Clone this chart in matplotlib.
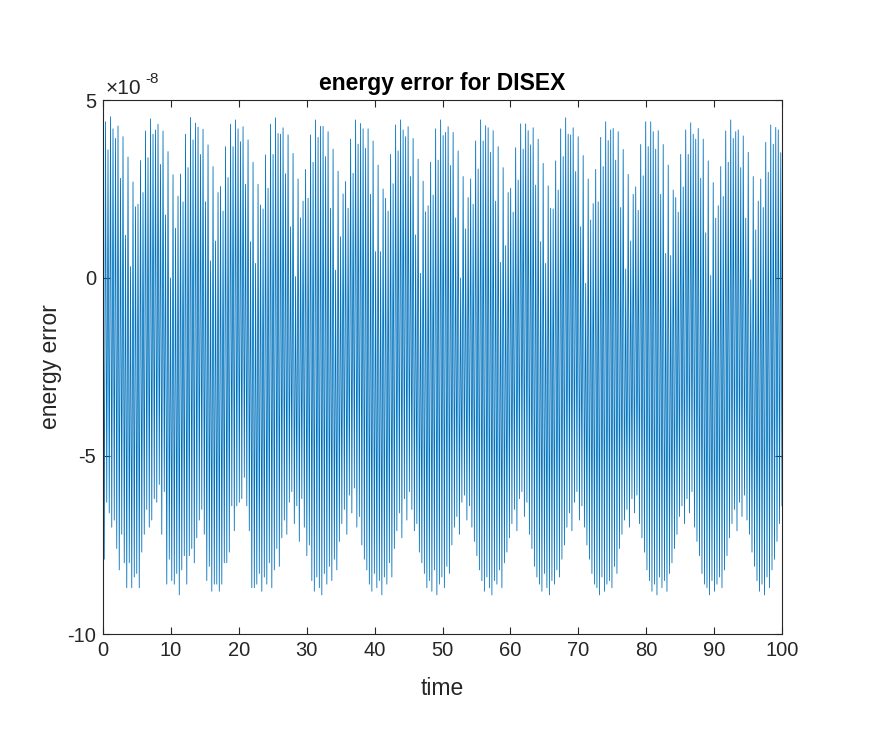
import numpy as np
import matplotlib
matplotlib.use("Agg")
import matplotlib.pyplot as plt

plt.rcParams['font.family'] = ['Liberation Sans', 'DejaVu Sans']
plt.rcParams['axes.unicode_minus'] = False

# spike tops / bottoms of the energy error, in units of 1e-8, read left to right
tops = [
    2.7, 4.39, 3.6, 4.53, 4.19, 3.92, 4.27, 2.8, 3.97, 1.2, 3.4, 0.32, 2.7, 2.0, 2.07,
    3.3, 2.4, 4.13, 3.38, 4.47, 4.04, 4.16, 4.32, 3.19, 4.13, 1.77, 3.55, 0.0, 2.9, 1.4,
    2.3, 2.92, 2.14, 4.04, 3.1, 4.51, 3.88, 4.35, 4.24, 3.47, 4.18, 2.14, 3.74, 0.48, 3.13,
    1.04, 2.4, 2.57, 1.88, 3.69, 2.82, 4.32, 3.69, 4.44, 4.19, 3.83, 4.25, 2.63, 3.88, 1.02,
    3.25, 0.41, 2.63, 2.05, 1.94, 3.46, 2.52, 4.32, 3.47, 4.5, 4.06, 4.04, 4.22, 2.93, 4.02,
    1.44, 3.5, 0.04, 2.78, 1.69, 2.16, 3.05, 2.24, 4.02, 3.25, 4.44, 3.95, 4.26, 4.26, 3.41,
    4.11, 1.96, 3.62, 0.22, 3.0, 1.16, 2.36, 2.71, 1.96, 3.9, 2.94, 4.44, 3.76, 4.34, 4.19,
    3.64, 4.19, 2.35, 3.85, 0.74, 3.17, 0.74, 2.5, 2.24, 1.88, 3.47, 2.65, 4.3, 3.57, 4.44,
    4.16, 3.97, 4.25, 2.85, 3.92, 1.21, 3.34, 0.13, 2.72, 1.86, 2.03, 3.25, 2.33, 4.19, 3.31,
    4.44, 4.0, 4.09, 4.25, 3.16, 4.09, 1.69, 3.57, 0.0, 2.85, 1.38, 2.26, 2.78, 2.07, 3.85,
    3.06, 4.44, 3.85, 4.28, 4.22, 3.53, 4.14, 2.16, 3.69, 0.44, 3.1, 0.91, 2.4, 2.52, 1.85,
    3.66, 2.75, 4.33, 3.62, 4.33, 4.14, 3.74, 4.22, 2.61, 3.9, 1.02, 3.22, 0.41, 2.59, 1.96,
    1.94, 3.29, 2.47, 4.19, 3.41, 4.5, 4.04, 4.02, 4.22, 2.99, 3.97, 1.44, 3.44, -0.15, 2.78,
    1.63, 2.09, 3.05, 2.14, 3.95, 3.13, 4.39, 3.86, 4.16, 4.2, 3.31, 4.11, 1.98, 3.61, 0.25,
    2.91, 1.04, 2.35, 2.56, 1.9, 3.75, 2.87, 4.39, 3.69, 4.39, 4.11, 3.62, 4.14, 2.35, 3.75,
    0.69, 3.17, 0.63, 2.47, 2.26, 1.85, 3.47, 2.56, 4.16, 3.47, 4.36, 4.04, 3.9, 4.2, 2.8,
    3.9, 1.27, 3.29, 0.07, 2.68, 1.68, 2.03, 3.13, 2.29, 4.13, 3.25, 4.44, 3.92, 4.11, 4.16,
    3.1, 3.99, 1.68, 3.53, -0.05, 2.85, 1.35, 2.16, 2.78, 1.98, 3.81, 2.97, 4.3, 3.76, 4.23,
    4.16, 3.52,
]

bottoms = [
    -7.9, -6.3, -6.6, -7.0, -6.8, -7.6, -8.2, -7.2, -8.0, -8.7, -8.0, -8.7, -8.4, -8.3, -8.7,
    -7.7, -7.2, -6.5, -7.0, -6.8, -6.2, -6.3, -5.8, -7.2, -6.0, -8.6, -7.9, -8.5, -8.6, -8.3,
    -8.9, -8.2, -7.8, -8.6, -7.8, -7.6, -8.0, -7.3, -6.8, -6.5, -7.2, -8.5, -8.1, -8.8, -8.6,
    -8.6, -8.8, -8.6, -8.0, -8.0, -7.7, -6.4, -7.1, -6.4, -6.3, -6.2, -5.6, -6.4, -7.1, -8.7,
    -8.7, -8.6, -8.3, -8.8, -8.4, -8.6, -8.0, -8.7, -8.2, -7.6, -8.1, -7.3,
    -6.8, -7.2, -6.3, -6.0, -6.9, -6.4, -7.4, -6.2, -7.0, -7.8, -7.5,
    -8.5, -8.8, -8.4, -8.7, -8.9, -8.3, -8.6, -8.1, -8.5, -7.9, -8.2, -7.4,
    -6.9, -6.5, -7.2, -6.1, -6.6, -5.9, -7.0, -6.7, -7.5, -7.9, -8.2,
    -8.6, -8.8, -8.3, -8.7, -8.5, -8.9, -8.4, -8.6, -8.0, -8.4, -7.6, -7.1,
    -6.6, -7.3, -6.2, -6.8, -6.0, -6.5, -7.1, -6.9, -7.7, -8.0, -8.3,
    -8.7, -8.5, -8.8, -8.2, -8.9, -8.6, -8.4, -8.7, -8.1, -8.3, -7.5, -7.0,
    -6.7, -7.2, -6.3, -6.1, -6.8, -6.4, -7.0, -7.4, -7.8, -8.2, -8.5,
    -8.8, -8.4, -8.7, -8.9, -8.5, -8.6, -8.2, -8.7, -8.0, -7.7, -7.3, -6.9,
    -6.5, -7.1, -6.2, -6.0, -6.7, -6.3, -7.2, -7.6, -8.1, -8.4, -8.6,
    -8.8, -8.3, -8.7, -8.9, -8.5, -8.6, -8.2, -8.4, -7.9, -7.5, -7.0, -6.6,
    -7.1, -6.3, -6.0, -6.8, -6.4, -7.0, -7.5, -7.9, -8.3, -8.6, -8.7,
    -8.9, -8.4, -8.8, -8.6, -8.5, -8.7, -8.1, -8.3, -7.6, -7.2, -6.8, -6.5,
    -7.0, -6.2, -6.6, -6.1, -6.9, -7.3, -7.7, -8.2, -8.5, -8.8, -8.6,
    -8.9, -8.4, -8.7, -8.5, -8.8, -8.3, -8.0, -7.6, -7.2, -6.7, -6.4, -6.9,
    -6.2, -6.6, -6.0, -7.0, -7.4, -7.8, -8.3, -8.6, -8.7, -8.9, -8.5,
    -8.8, -8.6, -8.4, -8.7, -8.2, -7.8, -7.3, -6.9, -6.5, -7.1, -6.3, -6.7,
    -6.1, -6.8, -7.2, -7.7, -8.1, -8.5, -8.8, -8.6, -8.9, -8.4, -8.7, -8.2, -7.9, -7.4, -6.9, -6.4,
]

t_start, t_end = 0, 100

# interleave tops and bottoms into one trace
n = min(len(tops), len(bottoms))
err = np.empty(2 * n)
err[0::2] = tops[:n]
err[1::2] = bottoms[:n]
t = np.linspace(t_start, t_end, 2 * n)

fig = plt.figure(figsize=(8.76, 7.48), dpi=100)
ax = fig.add_axes([103 / 876, 1 - 634 / 748, 679 / 876, 534 / 748])
ax.plot(t, err, color='#0072BD', linewidth=0.6)

ax.set_xlim(0, 100)
ax.set_ylim(-10, 5)
ax.set_xticks(np.arange(0, 101, 10))
ax.set_yticks([-10, -5, 0, 5])
ax.set_yticklabels(['-10', '-5', '0', '5'])

axcol = '#262626'
for s in ax.spines.values():
    s.set_color(axcol)
    s.set_linewidth(0.8)
ax.tick_params(direction='in', length=5, width=0.8, colors=axcol,
               labelsize=14.5, top=True, right=True, pad=5)

ax.set_title('energy error for DISEX', fontsize=16.5, fontweight='bold', color='black', pad=7)
ax.set_xlabel('time', fontsize=16.5, color=axcol, labelpad=12)
ax.set_ylabel('energy error', fontsize=16.5, color=axcol, labelpad=4)

# MATLAB-style exponent label
ax.text(0.004, 1.004, '×10', transform=ax.transAxes, fontsize=15, color=axcol,
        ha='left', va='bottom')
ax.text(0.063, 1.026, '-8', transform=ax.transAxes, fontsize=11, color=axcol,
        ha='left', va='bottom')

fig.savefig('out.png', dpi=100)
